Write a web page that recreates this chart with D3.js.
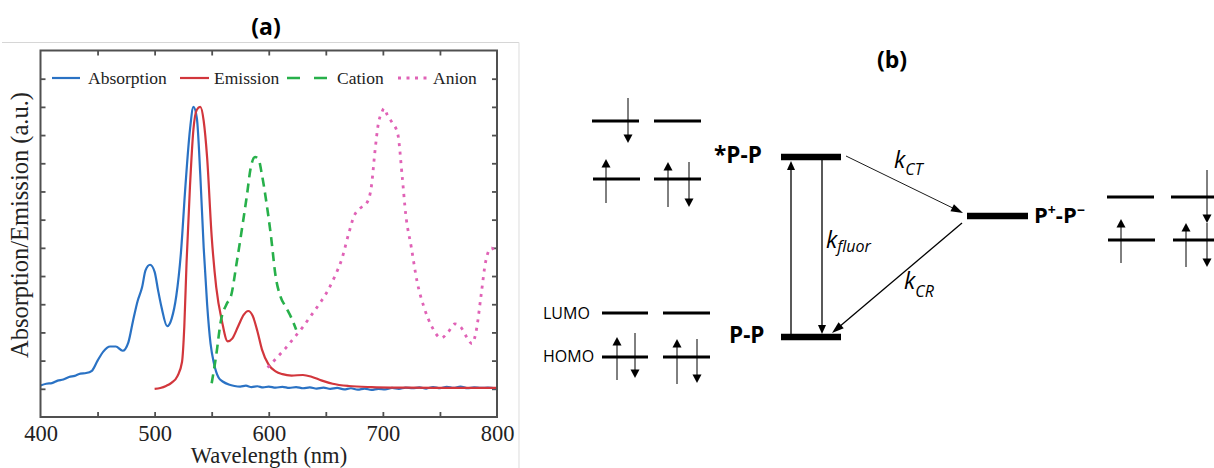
<!DOCTYPE html>
<html><head><meta charset="utf-8">
<script src="https://cdn.jsdelivr.net/npm/d3@7"></script>
<style>body{margin:0;background:#fff}svg{display:block}</style>
</head><body>
<svg id="c" width="1214" height="468"></svg>
<script>
// ---------- Panel (a) data ----------
const absNm  = [400,405,410,415,420,425,430,435,440,445,450,455,461,466,472,477,481,485,489,492,496,500,503,506,511,515,519,523,527,531,534,537,540,543,546,549,552,556,560,565,570,575,580,585,590,595,600,606,612,618,624,630,636,642,648,654,660,666,672,678,684,690,696,702,708,714,720,726,732,738,744,750,756,762,768,774,780,786,792,798,800];
const absVal = [0.012,0.018,0.020,0.029,0.033,0.042,0.046,0.054,0.056,0.064,0.100,0.132,0.150,0.150,0.135,0.165,0.240,0.310,0.360,0.420,0.440,0.415,0.350,0.290,0.222,0.250,0.330,0.480,0.720,0.920,1.000,0.960,0.760,0.500,0.300,0.160,0.090,0.040,0.025,0.015,0.010,0.008,0.011,0.006,0.009,0.005,0.008,0.004,0.007,0.003,0.006,0.002,0.005,0.001,0.004,0.000,0.003,-0.002,0.002,-0.003,0.001,-0.004,0.000,-0.002,0.003,0.000,0.004,0.002,0.005,0.001,0.006,0.002,0.007,0.003,0.008,0.002,0.005,0.003,0.004,0.002,0.003];

const emiNm  = [500,505,510,515,520,524,526,528,531,534,537,540,543,546,550,554,559,564,568,573,578,582,586,590,594,600,606,612,620,630,638,646,656,670,690,720,760,800];
const emiVal = [0.000,0.003,0.010,0.022,0.045,0.095,0.220,0.450,0.720,0.920,0.990,1.000,0.950,0.820,0.540,0.360,0.240,0.168,0.178,0.220,0.262,0.276,0.258,0.205,0.140,0.085,0.062,0.052,0.047,0.049,0.042,0.030,0.018,0.010,0.006,0.004,0.003,0.003];

const catNm  = [550,554,558,563,567,572,577,581,584,588,591,594,598,602,606,610,615,620,624];
const catVal = [0.020,0.120,0.240,0.300,0.330,0.450,0.580,0.690,0.780,0.822,0.815,0.760,0.660,0.540,0.400,0.330,0.290,0.250,0.210];

const aniNm  = [599,607,615,622,630,638,645,652,658,664,670,675,680,686,690,693,696,699,701,704,708,713,717,720,725,730,736,743,751,757,763,768,774,778,782,786,790,795,799];
const aniVal = [0.075,0.110,0.145,0.180,0.220,0.265,0.305,0.350,0.400,0.460,0.550,0.615,0.640,0.660,0.720,0.840,0.940,0.980,0.995,0.970,0.945,0.905,0.750,0.620,0.500,0.380,0.290,0.220,0.180,0.200,0.230,0.220,0.180,0.160,0.210,0.330,0.450,0.500,0.480];

const xLabelTicks = [400,500,600,700,800];
const xMinorTicks = [450,500,550,600,650,700,750];
const yTicks = [0,0.1,0.2,0.3,0.4,0.5,0.6,0.7,0.8,0.9,1.0,1.1];
const seriesNames = ["Absorption","Emission","Cation","Anion"];

const svg = d3.select("#c");
const serif = "'Liberation Serif','Times New Roman',serif";
const sans = "'Open Sans',Lato,sans-serif";

// panel (a) border lines (from original image)
svg.append("line").attr("x1",2).attr("x2",519).attr("y1",42.5).attr("y2",42.5).attr("stroke","#d6d6d6").attr("stroke-width",1.2);
svg.append("line").attr("x1",519).attr("x2",519).attr("y1",42.5).attr("y2",468).attr("stroke","#e2e2e2").attr("stroke-width",1.2);

svg.append("text").attr("x",266).attr("y",35).attr("text-anchor","middle")
  .attr("font-family",sans).attr("font-weight","bold").attr("font-size",23).text("(a)");

const x = d3.scaleLinear().domain([400,800]).range([40.5,497]);
const y = d3.scaleLinear().domain([-0.1,1.2]).range([417,50.5]);

const gA = svg.append("g");
const frameCol = "#505050";
function styleTicks(g){ g.select(".domain").remove(); g.selectAll("line").attr("stroke",frameCol).attr("stroke-width",1.8); }
gA.append("g").attr("transform",`translate(0,${y(-0.1)})`)
  .call(d3.axisTop(x).tickValues(xMinorTicks).tickSize(5).tickFormat("")).call(styleTicks);
gA.append("g").attr("transform",`translate(0,${y(1.2)})`)
  .call(d3.axisBottom(x).tickValues(xMinorTicks).tickSize(5).tickFormat("")).call(styleTicks);
gA.append("g").attr("transform",`translate(${x(400)},0)`)
  .call(d3.axisRight(y).tickValues(yTicks).tickSize(5).tickFormat("")).call(styleTicks);
gA.append("g").attr("transform",`translate(${x(800)},0)`)
  .call(d3.axisLeft(y).tickValues(yTicks).tickSize(5).tickFormat("")).call(styleTicks);
// x labels
const xl = gA.append("g").attr("transform",`translate(0,${y(-0.1)})`)
  .call(d3.axisBottom(x).tickValues(xLabelTicks).tickSize(0).tickPadding(12).tickFormat(d3.format("d")));
xl.select(".domain").remove();
xl.style("font-family",serif);
xl.selectAll("text").style("font-family",serif).style("font-size","22.5px").attr("fill","#222").attr("dy","0").attr("y",23.5);

// curves
const colors = ["#2a72c4","#d2363c","#27b04a","#e062b6"];
const line = d3.line().x(d=>x(d[0])).y(d=>y(d[1])).curve(d3.curveMonotoneX);
const series = [
  {data:d3.zip(absNm,absVal), c:colors[0], dash:null, w:2.2},
  {data:d3.zip(emiNm,emiVal), c:colors[1], dash:null, w:2.2},
  {data:d3.zip(catNm,catVal), c:colors[2], dash:"9,6", w:2.6},
  {data:d3.zip(aniNm,aniVal), c:colors[3], dash:"3,5.5", w:2.8}
];
const gc = gA.append("g");
series.forEach(s=>{
  gc.append("path").attr("d",line(s.data)).attr("fill","none").attr("stroke",s.c)
    .attr("stroke-width",s.w).attr("stroke-dasharray",s.dash).attr("stroke-linejoin","round");
});

// frame
gA.append("rect").attr("x",x(400)).attr("y",y(1.2)).attr("width",x(800)-x(400)).attr("height",y(-0.1)-y(1.2))
  .attr("fill","none").attr("stroke",frameCol).attr("stroke-width",2);

// legend
const leg = [
  {x1:52,x2:80,tx:88},{x1:180,x2:209,tx:214},{x1:287,x2:327,tx:337},{x1:398,x2:428,tx:433}
];
leg.forEach((L,i)=>{
  gA.append("line").attr("x1",L.x1).attr("x2",L.x2).attr("y1",78).attr("y2",78)
    .attr("stroke",series[i].c).attr("stroke-width",series[i].w).attr("stroke-dasharray",i===2?"13,14":series[i].dash);
  gA.append("text").attr("x",L.tx).attr("y",83.5).attr("font-family",serif).attr("font-size",17.5).attr("fill","#222").text(seriesNames[i]);
});

// axis titles
gA.append("text").attr("x",269).attr("y",463).attr("text-anchor","middle").attr("font-family",serif).attr("font-size",22.5).attr("fill","#222").text("Wavelength (nm)");
gA.append("text").attr("transform","translate(28,225) rotate(-90)").attr("text-anchor","middle").attr("font-family",serif).attr("font-size",24.5).attr("fill","#222").text("Absorption/Emission (a.u.)");

// ---------- Panel (b) schematic ----------
const bx = d3.scaleIdentity(), by = d3.scaleIdentity();
const orbitals = [ // [x1,x2,y]
  [592,639,121],[654,701,121],[593,640,179],[654,701,179],
  [602,648,313],[663,710,313],[602,648,357],[663,710,357],
  [1107,1154,197],[1171,1216,197],[1108,1155,240],[1173,1216,240]
];
const spins = [ // [x, tail y, tip y]
  [628,98,143],[606,203,159],[668,207,162],[689,162,207],
  [617,380,337],[635,333,378],[677,384,339],[697,339,383],
  [1207,170,223],[1121,263,219],[1186,267,223],[1207,223,267]
];
const stateBars = [ // [x1,x2,y]
  [781,841,157],[781,841,337],[967,1028,216]
];
const transitions = [ // [x1,y1,x2,y2,width,headLen,headW]
  [791,334,791,161,1.3,9,8],
  [822,160,822,334,1.3,9,8],
  [846,156,963,213,0.9,12,8],
  [962,223,832,333,1.3,12,8]
];
const gB = svg.append("g");
function head(x1,y1,x2,y2,L,W){
  const dx=x2-x1, dy=y2-y1, len=Math.hypot(dx,dy), ux=dx/len, uy=dy/len;
  const bxp=x2-ux*L, byp=y2-uy*L;
  return `M${x2},${y2}L${bxp-uy*W/2},${byp+ux*W/2}L${bxp+uy*W/2},${byp-ux*W/2}Z`;
}
orbitals.forEach(o=>gB.append("line").attr("x1",bx(o[0])).attr("x2",bx(o[1])).attr("y1",by(o[2])).attr("y2",by(o[2])).attr("stroke","#000").attr("stroke-width",3));
spins.forEach(s=>{
  const L=8.5, dir = s[2]>s[1]?1:-1;
  gB.append("line").attr("x1",bx(s[0])).attr("x2",bx(s[0])).attr("y1",by(s[1])).attr("y2",by(s[2])-dir*L*0.8).attr("stroke","#000").attr("stroke-width",1);
  gB.append("path").attr("d",head(bx(s[0]),by(s[1]),bx(s[0]),by(s[2]),L,9)).attr("fill","#000");
});
stateBars.forEach(b=>gB.append("line").attr("x1",bx(b[0])).attr("x2",bx(b[1])).attr("y1",by(b[2])).attr("y2",by(b[2])).attr("stroke","#000").attr("stroke-width",6.5));
transitions.forEach(t=>{
  const [x1,y1,x2,y2,w,L,W]=t;
  const len=Math.hypot(x2-x1,y2-y1);
  gB.append("line").attr("x1",x1).attr("y1",y1).attr("x2",x2-(x2-x1)/len*L*0.8).attr("y2",y2-(y2-y1)/len*L*0.8).attr("stroke","#000").attr("stroke-width",w);
  gB.append("path").attr("d",head(x1,y1,x2,y2,L,W)).attr("fill","#000");
});

// text
gB.append("text").attr("x",892).attr("y",68).attr("text-anchor","middle").attr("font-family",sans).attr("font-weight","bold").attr("font-size",23).text("(b)");
gB.append("text").attr("x",714).attr("y",163).attr("font-family",sans).attr("font-weight","bold").attr("font-size",22.5).text("*P-P");
gB.append("text").attr("x",729).attr("y",343).attr("font-family",sans).attr("font-weight","bold").attr("font-size",22.5).text("P-P");
const ct = gB.append("text").attr("x",1034).attr("y",223).attr("font-family",sans).attr("font-weight","bold").attr("font-size",22);
ct.append("tspan").text("P");
ct.append("tspan").attr("dy",-8).attr("font-size",14).text("+");
ct.append("tspan").attr("dy",8).text("-P");
ct.append("tspan").attr("dy",-8).attr("font-size",14).text("\u2212");
gB.append("text").attr("x",543).attr("y",319).attr("font-family",sans).attr("font-size",16).text("LUMO");
gB.append("text").attr("x",543).attr("y",362).attr("font-family",sans).attr("font-size",16).text("HOMO");
function kLabel(xk,yk,sub,dySub){
  const t=gB.append("text").attr("x",xk).attr("y",yk).attr("font-family",sans).attr("font-style","italic").attr("font-size",23);
  t.append("tspan").text("k");
  t.append("tspan").attr("dy",dySub).attr("font-size",16).text(sub);
}
kLabel(826,248,"fluor",4);
kLabel(894,168,"CT",7);
kLabel(904,289,"CR",8);
</script>
</body></html>
